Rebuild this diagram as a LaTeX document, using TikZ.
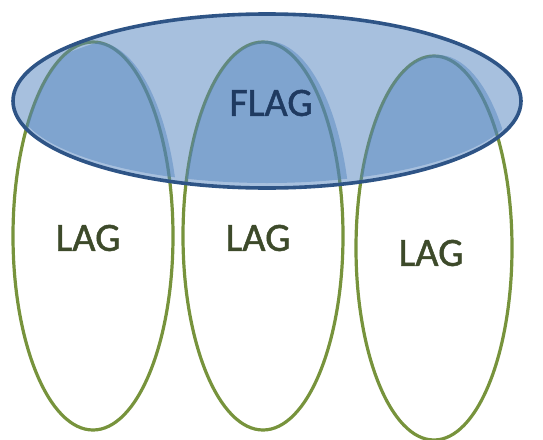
\documentclass[tikz,border=0pt]{standalone}
\usepackage{fontspec}
\setmainfont{Carlito}
\newfontfamily\heavyfont[FakeBold=1.2]{Carlito}
\usetikzlibrary{shapes.geometric}
\definecolor{lagreen}{HTML}{77933C}
\definecolor{flagblue}{HTML}{4F81BD}
\definecolor{flagedge}{HTML}{2E5486}
\definecolor{flagtext}{HTML}{1F3A60}
\definecolor{lagtext}{HTML}{3D4A2A}
\tikzset{
  lagring/.style={ellipse, draw=lagreen, line width=3.2pt, inner sep=0pt, minimum width=160pt, minimum height=388pt},
  flagring/.style={ellipse, draw=flagedge, line width=3.6pt, inner sep=0pt, minimum width=508pt, minimum height=174pt},
  lagtxt/.style={font=\heavyfont\fontsize{40}{40}\selectfont, text=lagtext, inner sep=0pt},
  flagtxt/.style={font=\heavyfont\fontsize{40}{40}\selectfont, text=flagtext, inner sep=0pt}
}
\begin{document}
\begin{tikzpicture}[x=1pt,y=-1pt]
\useasboundingbox (0,0) rectangle (543,439);
% green ellipses
\node[lagring] (g1) at (93,236) {};
\node[lagring] (g2) at (263,236) {};
\node[lagring, minimum width=156pt, minimum height=384pt] (g3) at (434,248) {};
% blue fill
\fill[flagblue, fill opacity=0.5] (267,101) ellipse [x radius=254, y radius=87];
% darker intersections
\begin{scope}
  \clip (267,102) ellipse [x radius=250, y radius=81];
  \fill[flagblue, fill opacity=0.45] (96,238) ellipse [x radius=83, y radius=196];
  \fill[flagblue, fill opacity=0.45] (267,238) ellipse [x radius=84, y radius=197];
  \fill[flagblue, fill opacity=0.45] (438,250) ellipse [x radius=82, y radius=195];
\end{scope}
% blue outline
\node[flagring] (f) at (267,101) {};
% labels
\node[flagtxt] (flag) at (271,103) {FLAG};
\node[lagtxt] (l1) at (88,238) {LAG};
\node[lagtxt] (l2) at (258,238) {LAG};
\node[lagtxt] (l3) at (431,253) {LAG};
\end{tikzpicture}
\end{document}
